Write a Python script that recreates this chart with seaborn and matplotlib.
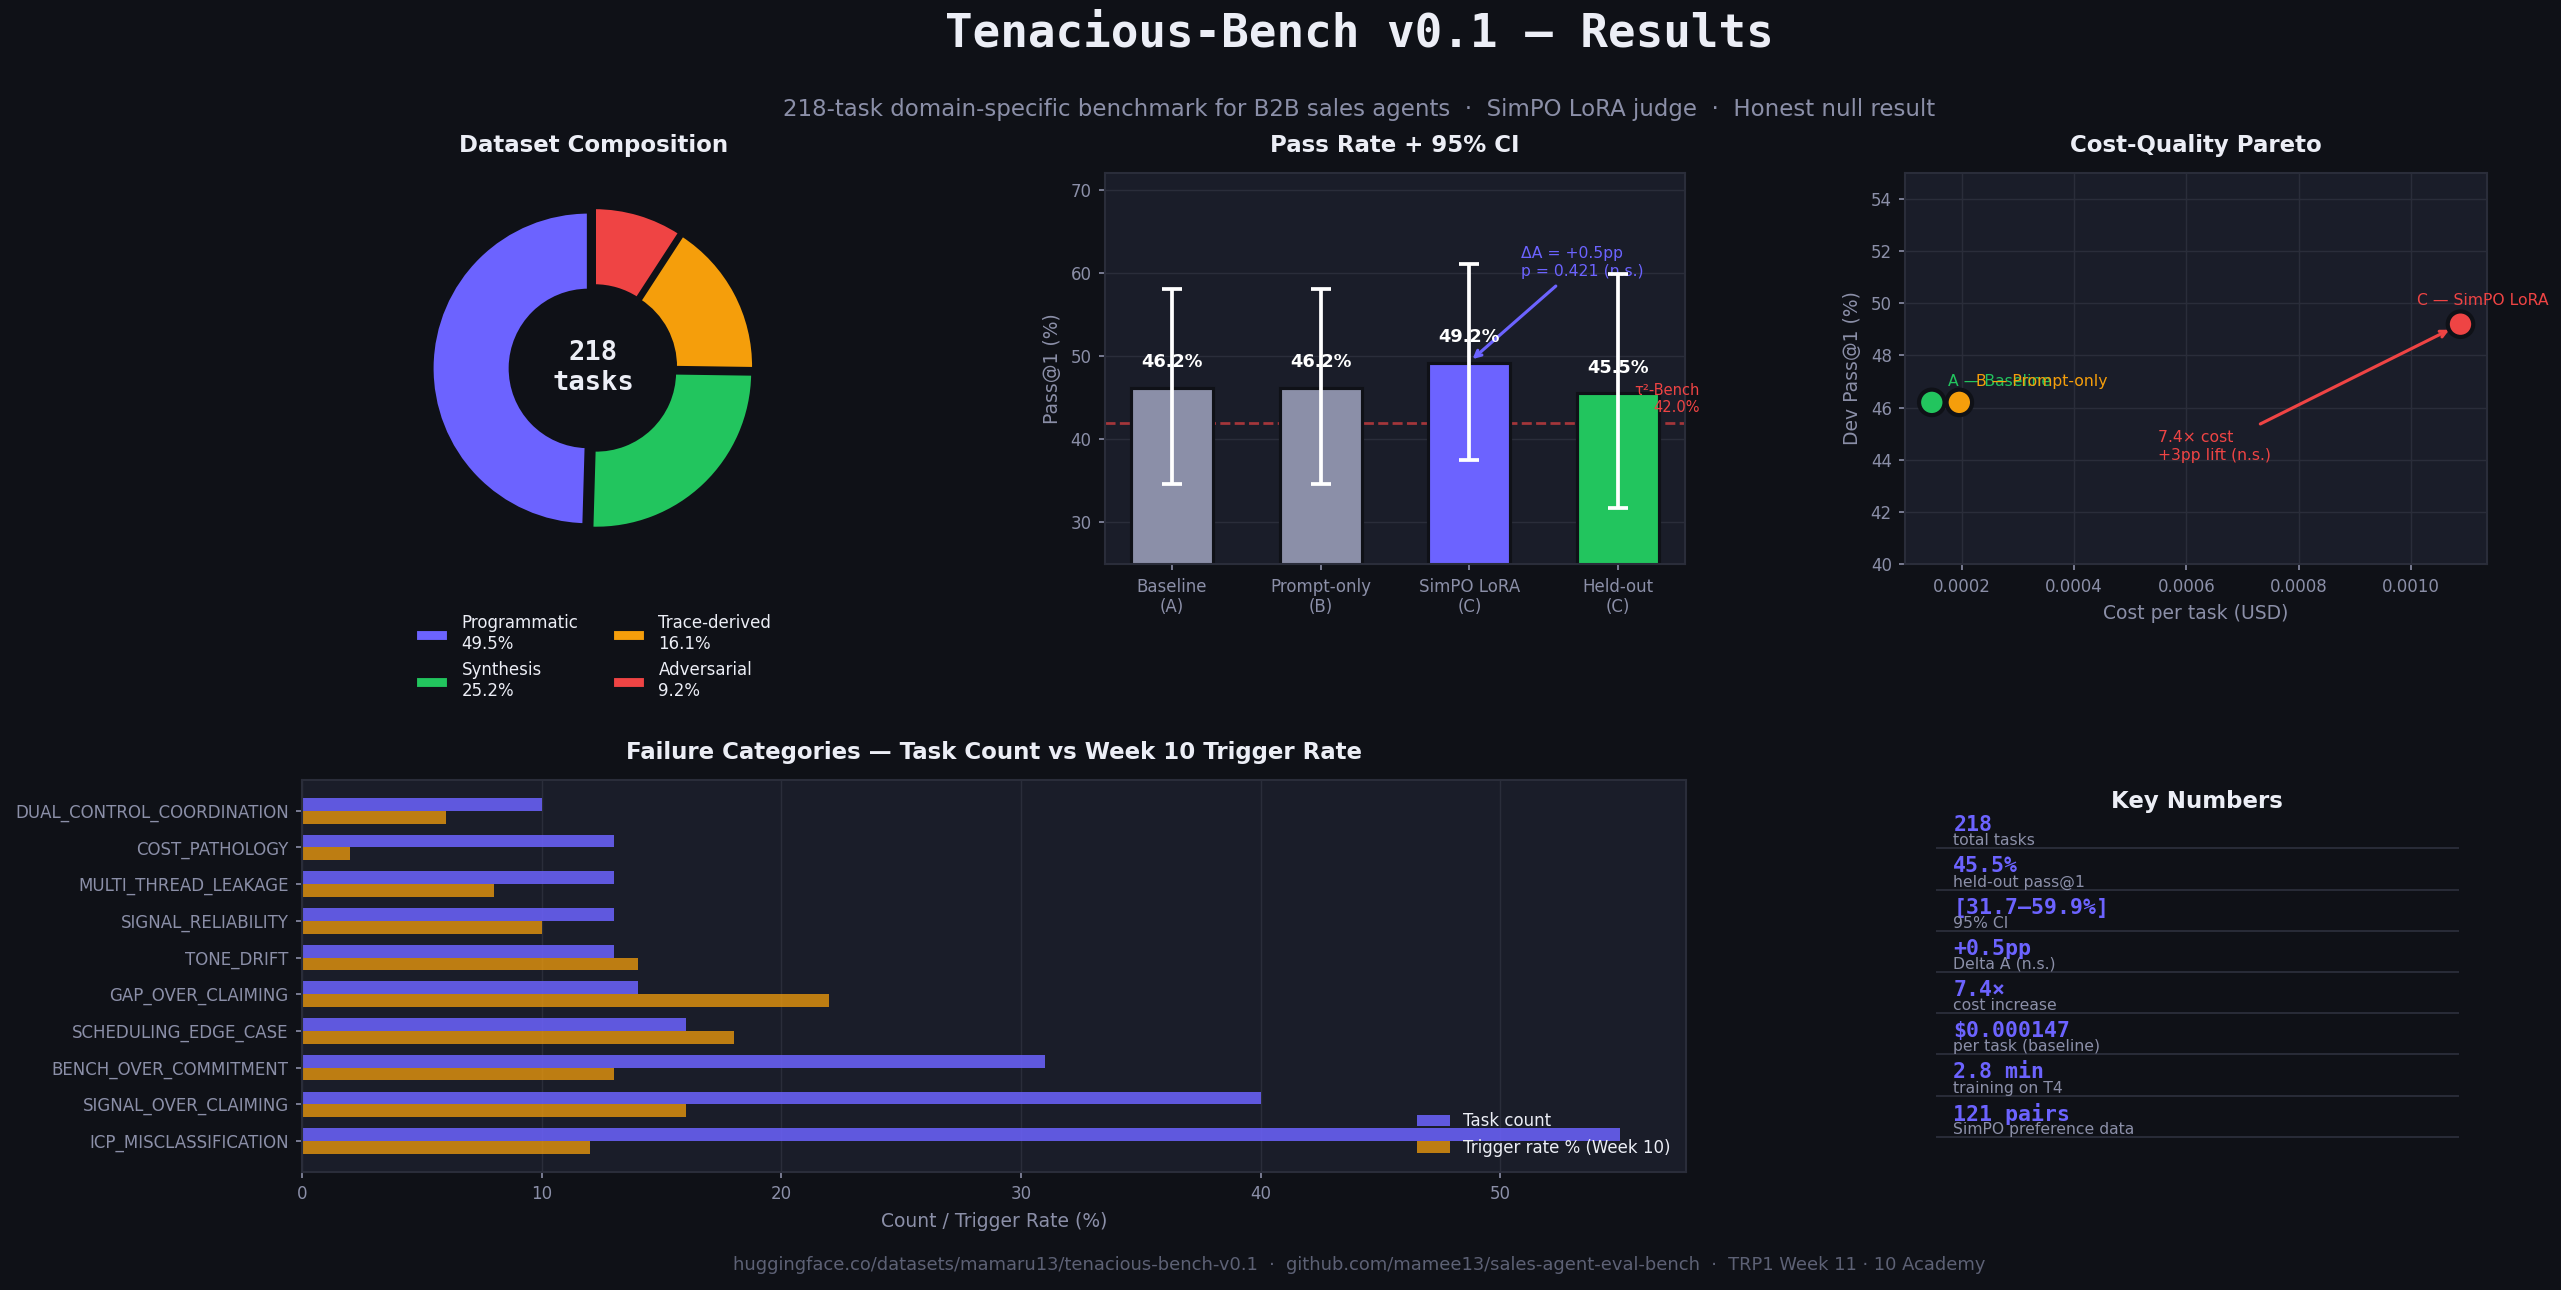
#!/usr/bin/env python3
"""
Tenacious-Bench v0.1 results dashboard.
Donut of dataset composition, pass rates with CIs, cost/quality pareto,
failure categories and a key-numbers panel.
"""

import matplotlib
matplotlib.use("Agg")
import matplotlib.pyplot as plt
import numpy as np
import pandas as pd
import seaborn as sns

# Colours
BG = "#0f1117"
PANEL = "#1a1d29"
GRID = "#2a2d3a"
TEXT = "#eceef6"
MUTED = "#8b8fa8"
FAINT = "#5d6175"
PURPLE = "#6c63ff"
GREEN = "#22c55e"
ORANGE = "#f59e0b"
RED = "#ef4444"

# Dataset composition
comp_labels = ["Programmatic", "Synthesis", "Trace-derived", "Adversarial"]
comp_counts = [108, 55, 35, 20]

# Pass rate + 95% CI
cond_labels = ["Baseline\n(A)", "Prompt-only\n(B)", "SimPO LoRA\n(C)", "Held-out\n(C)"]
pass_rate = [46.2, 46.2, 49.2, 45.5]
ci_low = [34.6, 34.6, 37.5, 31.7]
ci_high = [58.1, 58.1, 61.1, 59.9]
tau2_bench = 42.0

# Cost-quality pareto
pareto_labels = ["A — Baseline", "B — Prompt-only", "C — SimPO LoRA"]
cost_per_task = [0.000147, 0.000196, 0.001088]
dev_pass = [46.2, 46.2, 49.2]

# Failure categories (top to bottom)
fail_cats = [
    "DUAL_CONTROL_COORDINATION",
    "COST_PATHOLOGY",
    "MULTI_THREAD_LEAKAGE",
    "SIGNAL_RELIABILITY",
    "TONE_DRIFT",
    "GAP_OVER_CLAIMING",
    "SCHEDULING_EDGE_CASE",
    "BENCH_OVER_COMMITMENT",
    "SIGNAL_OVER_CLAIMING",
    "ICP_MISCLASSIFICATION",
]
task_count = [10, 13, 13, 13, 13, 14, 16, 31, 40, 55]
trigger_rate = [6, 2, 8, 10, 14, 22, 18, 13, 16, 12]
series_names = ["Task count", "Trigger rate % (Week 10)"]

# Key numbers
key_values = ["218", "45.5%", "[31.7–59.9%]", "+0.5pp", "7.4×",
              "\\$0.000147", "2.8 min", "121 pairs"]
key_labels = ["total tasks", "held-out pass@1", "95% CI", "Delta A (n.s.)",
              "cost increase", "per task (baseline)", "training on T4",
              "SimPO preference data"]


def style_axes(ax):
    ax.set_facecolor(PANEL)
    for s in ax.spines.values():
        s.set_color(GRID)
        s.set_linewidth(1.0)
    ax.tick_params(colors=MUTED, labelsize=8, length=3, width=0.8)
    ax.set_axisbelow(True)


def main():
    sns.set_theme(style="dark", rc={
        "figure.facecolor": BG,
        "axes.facecolor": PANEL,
        "axes.edgecolor": GRID,
        "grid.color": GRID,
        "grid.linewidth": 0.7,
        "text.color": TEXT,
        "axes.labelcolor": MUTED,
        "xtick.color": MUTED,
        "ytick.color": MUTED,
        "xtick.bottom": True,
        "ytick.left": True,
        "axes.titlecolor": TEXT,
    })
    plt.rcParams["font.family"] = ["DejaVu Sans"]

    fig = plt.figure(figsize=(17.08, 8.6), dpi=150)

    # header / footer are centred a bit right of the figure middle
    cx = 0.5305
    fig.text(cx, 0.974, "Tenacious-Bench v0.1 — Results", ha="center", va="center",
             fontsize=22, fontweight="bold", family="DejaVu Sans Mono", color=TEXT)
    fig.text(cx, 0.915,
             "218-task domain-specific benchmark for B2B sales agents  ·  "
             "SimPO LoRA judge  ·  Honest null result",
             ha="center", va="center", fontsize=11, color=MUTED)
    fig.text(cx, 0.0194,
             "huggingface.co/datasets/mamaru13/tenacious-bench-v0.1  ·  "
             "github.com/mamee13/sales-agent-eval-bench  ·  TRP1 Week 11 · 10 Academy",
             ha="center", va="center", fontsize=8.6, color=FAINT)

    # --- Donut ---
    ax = fig.add_axes([0.1552, 0.5628, 0.1526, 0.3031])
    total = sum(comp_counts)
    wedges, _ = ax.pie(comp_counts, colors=[PURPLE, GREEN, ORANGE, RED],
                       startangle=90, counterclock=True, explode=[0.03] * 4,
                       wedgeprops=dict(width=0.5, edgecolor=BG, linewidth=1.5))
    ax.set_aspect("equal")
    ax.text(0, 0, f"{total}\ntasks", ha="center", va="center", fontsize=13,
            fontweight="bold", family="DejaVu Sans Mono", color=TEXT)
    ax.set_title("Dataset Composition", fontsize=11, fontweight="bold", pad=10)
    leg_labels = [f"{l}\n{c / total * 100:.1f}%" for l, c in zip(comp_labels, comp_counts)]
    ax.legend(wedges, leg_labels, loc="upper center", bbox_to_anchor=(0.5, -0.09),
              ncol=2, frameon=False, fontsize=8, labelcolor=TEXT)

    # --- Pass rate ---
    ax = fig.add_axes([0.4313, 0.5628, 0.2264, 0.3031])
    style_axes(ax)
    sns.barplot(x=cond_labels, y=pass_rate, hue=cond_labels,
                palette=[MUTED, MUTED, PURPLE, GREEN], saturation=1, width=0.55,
                edgecolor=BG, linewidth=1.5, legend=False, ax=ax, zorder=2)
    lo = np.array(pass_rate) - np.array(ci_low)
    hi = np.array(ci_high) - np.array(pass_rate)
    ax.errorbar(range(len(pass_rate)), pass_rate, yerr=[lo, hi], fmt="none",
                ecolor="white", elinewidth=1.8, capsize=5, capthick=1.8, zorder=5)
    for i, v in enumerate(pass_rate):
        ax.text(i, v + 2, f"{v}%", ha="center", va="bottom", fontsize=8.5,
                fontweight="bold", color="white", zorder=6)
    ax.axhline(tau2_bench, color=RED, ls="--", lw=1.3, alpha=0.65, zorder=1)
    ax.text(3.55, tau2_bench + 0.9, f"τ²-Bench\n{tau2_bench:.1f}%", ha="right",
            va="bottom", fontsize=7, color=RED)
    ax.annotate("ΔA = +0.5pp\np = 0.421 (n.s.)", xy=(2, 49.3), xytext=(2.35, 59.3),
                ha="left", va="bottom", fontsize=7.5, color=PURPLE,
                arrowprops=dict(arrowstyle="->", color=PURPLE, lw=1.5))
    ax.set_xlim(-0.45, 3.45)
    ax.set_ylim(25, 72)
    ax.set_yticks([30, 40, 50, 60, 70])
    ax.grid(axis="y", visible=True)
    ax.grid(axis="x", visible=False)
    ax.set_ylabel("Pass@1 (%)", fontsize=9, color=MUTED)
    ax.set_title("Pass Rate + 95% CI", fontsize=11, fontweight="bold", pad=10)

    # --- Pareto ---
    ax = fig.add_axes([0.7437, 0.5628, 0.2270, 0.3031])
    style_axes(ax)
    pcolors = [GREEN, ORANGE, RED]
    sns.scatterplot(x=cost_per_task, y=dev_pass, hue=pareto_labels, palette=pcolors,
                    s=150, edgecolor=BG, linewidth=2, legend=False, ax=ax, zorder=5)
    offsets = [(8, 8), (8, 8), (-21, 9)]
    for lab, x, y, c, off in zip(pareto_labels, cost_per_task, dev_pass, pcolors, offsets):
        ax.annotate(lab, (x, y), xytext=off, textcoords="offset points",
                    fontsize=7.5, color=c)
    ax.annotate("7.4× cost\n+3pp lift (n.s.)", xy=(cost_per_task[2], dev_pass[2]),
                xytext=(0.00055, 44.5), ha="left", va="center", fontsize=7.5, color=RED,
                arrowprops=dict(arrowstyle="->", color=RED, lw=1.5, shrinkB=6))
    ax.set_ylim(40, 55)
    ax.set_yticks(range(40, 55, 2))
    ax.grid(True)
    ax.set_xlabel("Cost per task (USD)", fontsize=9)
    ax.set_ylabel("Dev Pass@1 (%)", fontsize=9)
    ax.set_title("Cost-Quality Pareto", fontsize=11, fontweight="bold", pad=10)

    # --- Failure categories ---
    ax = fig.add_axes([0.1180, 0.0917, 0.5400, 0.3036])
    style_axes(ax)
    df = pd.DataFrame({
        "category": fail_cats * 2,
        "series": [series_names[0]] * len(fail_cats) + [series_names[1]] * len(fail_cats),
        "value": task_count + trigger_rate,
    })
    sns.barplot(data=df, y="category", x="value", hue="series", order=fail_cats,
                hue_order=series_names, palette=[PURPLE, ORANGE], saturation=1,
                width=0.7, orient="h", linewidth=0, legend=False, ax=ax)
    for cont, a in zip(ax.containers, [0.85, 0.75]):
        for p in cont:
            p.set_alpha(a)
    ax.set_ylim(len(fail_cats) - 1 + 0.835, -0.835)
    ax.set_xlim(0, max(task_count) * 1.05)
    ax.grid(axis="x", visible=True)
    ax.grid(axis="y", visible=False)
    ax.set_ylabel("")
    ax.set_xlabel("Count / Trigger Rate (%)", fontsize=9)
    ax.legend(ax.containers, series_names, loc="lower right", frameon=False,
              fontsize=8, labelcolor=TEXT)
    ax.set_title("Failure Categories — Task Count vs Week 10 Trigger Rate",
                 fontsize=11, fontweight="bold", pad=10)

    # --- Key numbers ---
    ax = fig.add_axes([0.7557, 0.0917, 0.2040, 0.3036])
    ax.set_xlim(0, 1)
    ax.set_ylim(0, 1)
    ax.axis("off")
    ax.text(0.5, 0.945, "Key Numbers", ha="center", va="center", fontsize=11,
            fontweight="bold", color=TEXT)
    for i, (val, lab) in enumerate(zip(key_values, key_labels)):
        y = 0.885 - 0.1052 * i
        ax.text(0.033, y, val, ha="left", va="center", fontsize=10.3, fontweight="bold",
                family="DejaVu Sans Mono", color=PURPLE)
        ax.text(0.033, y - 0.0403, lab, ha="left", va="center", fontsize=7.5, color=MUTED)
        ax.plot([0, 1], [y - 0.0595] * 2, color=GRID, lw=0.9)

    fig.savefig("out.png", dpi=150, facecolor=BG)
    plt.close(fig)


if __name__ == "__main__":
    main()
